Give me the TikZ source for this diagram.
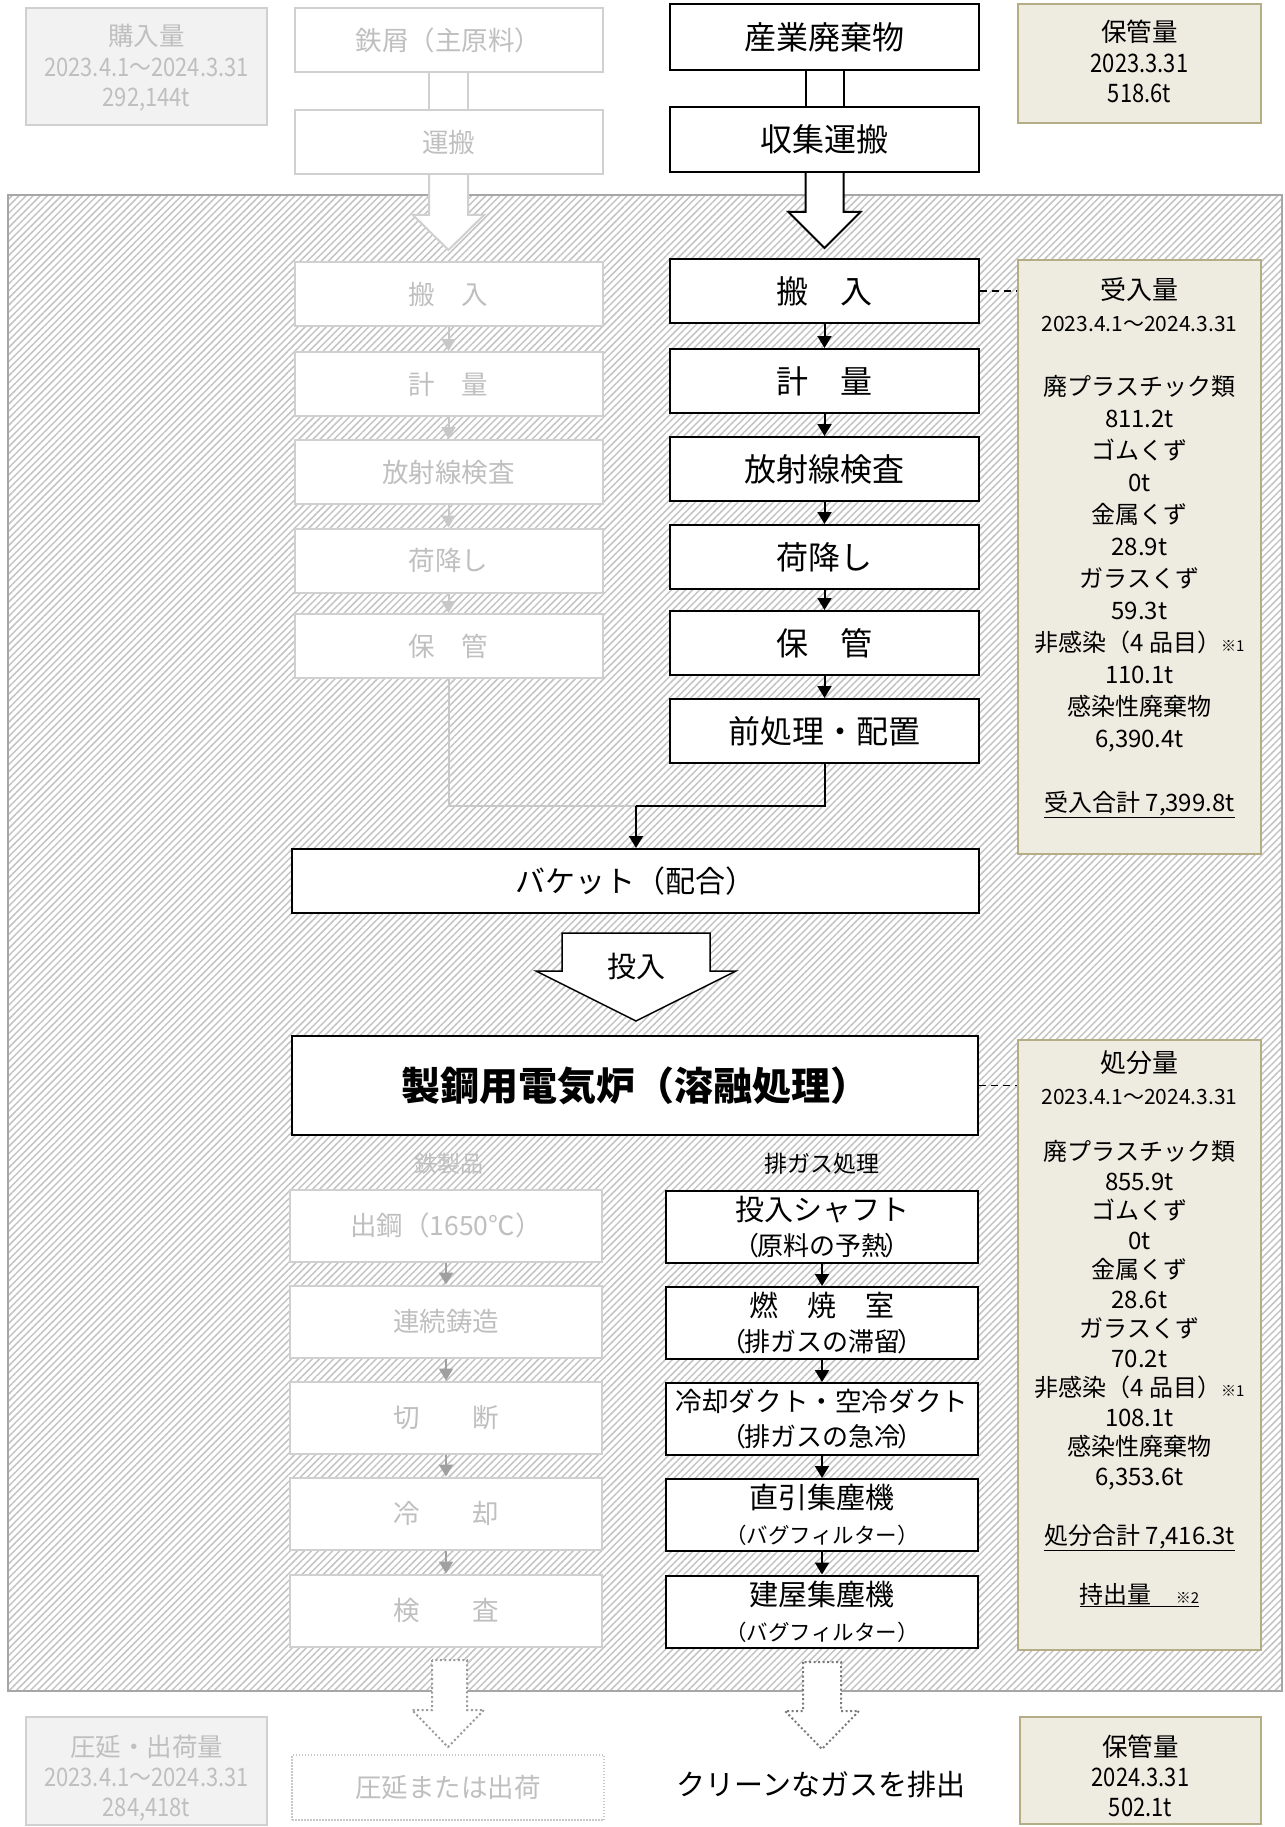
\documentclass[tikz,border=0pt]{standalone}
\usepackage{fontspec}
\setmainfont{Noto Sans CJK JP}
\newfontfamily\nar[FakeStretch=0.86]{Noto Sans CJK JP}
\usetikzlibrary{arrows.meta,patterns.meta}
\definecolor{gB}{HTML}{D0D0D0}
\definecolor{gT}{HTML}{BFBFBF}
\definecolor{gF}{HTML}{F2F2F2}
\definecolor{gA}{HTML}{C8C8C8}
\definecolor{gAA}{HTML}{A0A0A0}
\definecolor{panelf}{HTML}{EEECE1}
\definecolor{panelb}{HTML}{B5AD85}
\definecolor{hatchc}{HTML}{C4C4C4}
\definecolor{frm}{HTML}{A6A6A6}
\definecolor{dotA}{HTML}{9A9A9A}
\definecolor{dotB}{HTML}{7A7A7A}
\newcommand\fz[2]{\fontsize{#1pt}{#2pt}\selectfont}
\newcommand\lp{\kern-.4em（\kern-.1em}
\newcommand\rp{\kern-.1em）\kern-.4em}
\begin{document}
\begin{tikzpicture}[x=1pt,y=-1pt,
  mainbox/.style={draw=black,line width=2pt,fill=white,minimum width=309pt,minimum height=64pt,inner sep=0pt,font=\fz{32}{38},align=center},
  graybox/.style={draw=gB,line width=2pt,fill=white,text=gT,minimum width=308pt,minimum height=64pt,inner sep=0pt,font=\fz{26.5}{32},align=center},
  gasbox/.style={draw=black,line width=2pt,fill=white,minimum width=312pt,minimum height=72pt,inner sep=0pt,font=\fz{29}{35},align=center},
  graybox2/.style={graybox,minimum width=312pt,minimum height=72pt},
  panel/.style={draw=panelb,fill=panelf,line width=1.5pt,inner sep=0pt},
  infobox/.style={draw=gB,fill=gF,line width=1.5pt,inner sep=0pt},
  ptext/.style={anchor=north,align=center,inner sep=0pt},
  arr/.style={line width=2pt,-{Triangle[length=12pt,width=14pt]}},
  dashc/.style={line width=1.5pt,dash pattern=on 7pt off 5pt},
  dotarrow/.style={line width=2pt,dash pattern=on 2pt off 2.5pt,fill=white},
]
\fill[white] (0,0) rectangle (1284,1827);
\useasboundingbox (0,0) rectangle (1284,1827);

% hatched plant area
\fill[white] (8,195) rectangle (1282,1691);
\fill[pattern={Lines[angle=45,distance=5pt,line width=1.5pt]},pattern color=hatchc] (8,195) rectangle (1282,1691);
\draw[frm,line width=2pt] (8,195) rectangle (1282,1691);

% top hollow shafts and arrows
\draw[gB,line width=2pt,fill=white] (429,66) rectangle (468,116);
\draw[draw=gB,line width=2pt,fill=white] (429,168) -- (429,215) -- (413,215) -- (448.5,250) -- (484,215) -- (468,215) -- (468,168) -- cycle;
\draw[line width=2pt,fill=white] (805.5,64) rectangle (843.5,113);
\draw[line width=2pt,fill=white] (805.5,166) -- (805.5,212) -- (788.5,212) -- (824.5,248) -- (860.5,212) -- (843.5,212) -- (843.5,166) -- cycle;

% top boxes
\node[infobox,minimum width=241pt,minimum height=117pt] (buy) at (146.5,66.5) {};
\node[ptext,text=gT,font=\fz{25.5}{30.5}] (buyt) at (146.5,24) {購入量\\{\nar 2023.4.1～2024.3.31}\\{\nar 292,144t}};
\node[graybox] (tes) at (448.5,40) {鉄屑（主原料）};
\node[graybox] (unp) at (448.5,142) {運搬};
\node[mainbox,minimum height=66pt] (sang) at (824.5,37) {産業廃棄物};
\node[mainbox,minimum height=65pt] (shu) at (824.5,139.5) {収集運搬};
\node[panel,minimum width=243pt,minimum height=119pt] (hk1) at (1139.5,63.5) {};
\node[ptext,font=\fz{25.5}{30.5}] (hk1t) at (1139.5,20) {保管量\\{\nar 2023.3.31}\\{\nar 518.6t}};

% left gray column (upper)
\node[graybox] (l1) at (448.5,294) {搬　入};
\node[graybox] (l2) at (448.5,384) {計　量};
\node[graybox] (l3) at (448.5,472) {放射線検査};
\node[graybox] (l4) at (448.5,560.5) {荷降し};
\node[graybox] (l5) at (448.5,646) {保　管};
\foreach \a/\b in {l1/l2,l2/l3,l3/l4,l4/l5} \draw[arr,gA] (\a) -- (\b);

% right main column
\node[mainbox] (r1) at (824.5,291) {搬　入};
\node[mainbox] (r2) at (824.5,381) {計　量};
\node[mainbox] (r3) at (824.5,469) {放射線検査};
\node[mainbox] (r4) at (824.5,557) {荷降し};
\node[mainbox] (r5) at (824.5,643) {保　管};
\node[mainbox] (r6) at (824.5,731) {前処理・配置};
\foreach \a/\b in {r1/r2,r2/r3,r3/r4,r4/r5,r5/r6} \draw[arr] (\a) -- (\b);

% receive panel
\node[panel,minimum width=243pt,minimum height=594pt] (recv) at (1139.5,557) {};
\node[ptext,font=\fz{24}{32}] (recvt) at (1139.5,277) {{\fz{26}{32}受入量}\\{\fz{21}{32}2023.4.1～2024.3.31}\\[32pt]廃プラスチック類\\811.2t\\ゴムくず\\0t\\金属くず\\28.9t\\ガラスくず\\59.3t\\非感染（4 品目）{\fz{15}{32}※1}\\110.1t\\感染性廃棄物\\6,390.4t\\[32pt]\underline{受入合計 7,399.8t}};
\draw[dashc] (r1.east) -- (r1.east -| recv.west);

% bucket
\node[mainbox,minimum width=687pt,font=\fz{30}{36}] (buck) at (635.5,881) {バケット（配合）};
\coordinate (jn) at (636,806);
\draw[gA,line width=2pt] (l5.south) |- (jn);
\draw[line width=2pt] (r6.south) |- (jn);
\draw[arr] (jn) -- (jn |- buck.north);

% charge arrow
\draw[line width=1.5pt,fill=white] (562,933) -- (710,933) -- (710,971) -- (736,971) -- (636,1021) -- (536,971) -- (562,971) -- cycle;
\node[font=\fz{29}{35}] (tonyu) at (636,966) {投入};

% furnace
\node[mainbox,minimum width=686pt,minimum height=99pt,font=\bfseries\fz{39}{45}] (furn) at (635,1085.5) {製鋼用電気炉（溶融処理）};

% disposal panel
\node[panel,minimum width=243pt,minimum height=610pt] (disp) at (1139.5,1345) {};
\node[ptext,font=\fz{24}{29.5}] (dispt) at (1139.5,1050) {{\fz{26}{29.5}処分量}\\[2.5pt]{\fz{21}{29.5}2023.4.1～2024.3.31}\\[27pt]廃プラスチック類\\855.9t\\ゴムくず\\0t\\金属くず\\28.6t\\ガラスくず\\70.2t\\非感染（4 品目）{\fz{15}{29.5}※1}\\108.1t\\感染性廃棄物\\6,353.6t\\[29.5pt]\underline{処分合計 7,416.3t}\\[29.5pt]\underline{持出量　{\fz{15}{29.5}※2}}};
\draw[dashc] (furn.east) -- (furn.east -| disp.west);

% labels
\node[text=gT,font=\fz{23}{28}] (tsl) at (449,1164) {鉄製品};
\node[font=\fz{23}{28}] (exl) at (822,1164) {排ガス処理};

% lower left gray column
\node[graybox2] (b1) at (446,1225.5) {出鋼（1650℃）};
\node[graybox2] (b2) at (446,1321.5) {連続鋳造};
\node[graybox2] (b3) at (446,1417.5) {切　　断};
\node[graybox2] (b4) at (446,1513.5) {冷　　却};
\node[graybox2] (b5) at (446,1610.5) {検　　査};
\foreach \a/\b in {b1/b2,b2/b3,b3/b4,b4/b5} \draw[arr,gAA] (\a) -- (\b);

% gas treatment column
\node[gasbox] (g1) at (822,1227) {投入シャフト\\{\fz{26}{35}\lp 原料の予熱\rp}};
\node[gasbox] (g2) at (822,1323) {燃　焼　室\\{\fz{26}{35}\lp 排ガスの滞留\rp}};
\node[gasbox] (g3) at (822,1419) {{\fz{26.6}{35}冷却ダクト・空冷ダクト}\\{\fz{26}{35}\lp 排ガスの急冷\rp}};
\node[gasbox] (g4) at (822,1515) {直引集塵機\\{\fz{21.5}{35}（バグフィルター）}};
\node[gasbox] (g5) at (822,1611.5) {建屋集塵機\\{\fz{21.5}{35}（バグフィルター）}};
\foreach \a/\b in {g1/g2,g2/g3,g3/g4,g4/g5} \draw[arr] (\a) -- (\b);

% bottom dotted arrows
\draw[dotarrow,draw=dotA] (432,1660) -- (432,1710) -- (412,1710) -- (448,1747) -- (484,1710) -- (467,1710) -- (467,1660) -- cycle;
\draw[dotarrow,draw=dotB] (803,1662) -- (803,1711) -- (785,1711) -- (822,1749) -- (859,1711) -- (841,1711) -- (841,1662) -- cycle;

% bottom row
\node[infobox,minimum width=241pt,minimum height=108pt] (roll) at (146.5,1771) {};
\node[ptext,text=gT,font=\fz{25.5}{30}] (rollt) at (146.5,1735) {圧延・出荷量\\{\nar 2023.4.1～2024.3.31}\\{\nar 284,418t}};
\node[draw=gA,line width=1.5pt,dash pattern=on 1.5pt off 1.5pt,fill=white,text=gT,minimum width=312pt,minimum height=65pt,font=\fz{26.5}{32}] (ship) at (448,1787.5) {圧延または出荷};
\node[font=\fz{29}{35}] (clean) at (821,1784) {クリーンなガスを排出};
\node[panel,minimum width=241pt,minimum height=107pt] (hk2) at (1140.5,1770.5) {};
\node[ptext,font=\fz{25.5}{30}] (hk2t) at (1140.5,1735) {保管量\\{\nar 2024.3.31}\\{\nar 502.1t}};
\end{tikzpicture}
\end{document}
